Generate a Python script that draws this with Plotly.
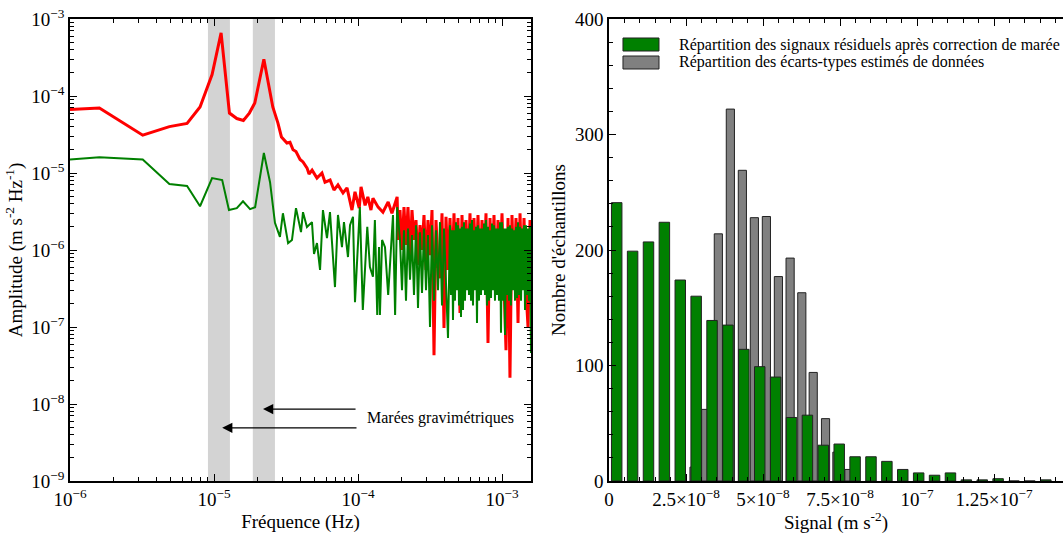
import numpy as np
import plotly.graph_objects as go

# ---------------- Left panel: amplitude spectra ----------------
red_freq_low = [1.0e-6, 1.6e-6, 3.2e-6, 4.9e-6, 6.5e-6, 8.0e-6, 9.7e-6, 1.12e-5, 1.28e-5, 1.44e-5,
                1.6e-5, 1.76e-5, 1.92e-5, 2.22e-5, 2.56e-5, 2.78e-5, 2.94e-5, 3.21e-5, 3.37e-5, 3.54e-5,
                3.71e-5, 3.96e-5, 4.15e-5, 4.43e-5, 4.57e-5, 4.80e-5, 5.19e-5, 5.62e-5, 5.90e-5, 6.40e-5,
                6.81e-5, 7.26e-5, 7.87e-5, 8.39e-5, 9.08e-5, 9.53e-5, 1.02e-4, 1.05e-4, 1.12e-4, 1.17e-4,
                1.23e-4, 1.27e-4, 1.38e-4, 1.49e-4, 1.62e-4, 1.72e-4, 1.87e-4, 1.90e-4]
red_amp_low = [6.7e-5, 7.0e-5, 3.1e-5, 4.0e-5, 4.4e-5, 7.2e-5, 1.9e-4, 6.6e-4, 6.0e-5, 5.1e-5,
               4.8e-5, 6.0e-5, 8.1e-5, 3.0e-4, 7.2e-5, 4.45e-5, 2.94e-5, 2.45e-5, 2.5e-5, 2.0e-5,
               1.9e-5, 1.5e-5, 1.39e-5, 1.16e-5, 9.7e-6, 1.09e-5, 8.6e-6, 1.0e-5, 7.6e-6, 8.1e-6,
               6.0e-6, 7.0e-6, 5.5e-6, 6.4e-6, 3.3e-6, 5.7e-6, 3.5e-6, 6.6e-6, 3.8e-6, 4.9e-6,
               3.3e-6, 4.7e-6, 3.6e-6, 3.1e-6, 4.2e-6, 3.0e-6, 4.9e-6, 1.35e-6]

green_freq_low = [1.0e-6, 1.6e-6, 3.2e-6, 4.9e-6, 6.5e-6, 8.0e-6, 9.7e-6, 1.14e-5, 1.27e-5, 1.44e-5,
                  1.59e-5, 1.78e-5, 1.93e-5, 2.22e-5, 2.45e-5, 2.65e-5, 2.87e-5, 3.01e-5, 3.27e-5, 3.48e-5,
                  3.71e-5, 4.02e-5, 4.15e-5, 4.42e-5, 4.79e-5, 4.95e-5, 5.19e-5, 5.45e-5, 5.71e-5, 6.09e-5,
                  6.39e-5, 6.60e-5, 6.92e-5, 7.26e-5, 7.74e-5, 7.99e-5, 8.52e-5, 8.80e-5, 9.23e-5, 9.53e-5,
                  1.0e-4, 1.03e-4, 1.08e-4, 1.16e-4, 1.21e-4, 1.27e-4, 1.31e-4, 1.36e-4, 1.40e-4, 1.42e-4,
                  1.47e-4, 1.54e-4, 1.62e-4, 1.70e-4, 1.75e-4, 1.81e-4, 1.87e-4]
green_amp_low = [1.5e-5, 1.6e-5, 1.5e-5, 7.2e-6, 6.8e-6, 3.7e-6, 8.6e-6, 8.1e-6, 3.3e-6, 3.5e-6,
                 4.3e-6, 3.4e-6, 3.6e-6, 1.82e-5, 7.6e-6, 2.25e-6, 1.48e-6, 3.0e-6, 1.23e-6, 1.35e-6,
                 3.5e-6, 1.71e-6, 3.1e-6, 1.99e-6, 2.3e-6, 8.9e-7, 1.23e-6, 5.5e-7, 3.3e-6, 1.43e-6,
                 3.1e-6, 1.09e-6, 3.3e-7, 2.85e-6, 1.09e-6, 2.3e-6, 8.1e-7, 2.1e-6, 2.7e-6, 2.1e-7,
                 1.0e-6, 3.6e-6, 1.66e-7, 2.0e-6, 6.0e-7, 4.5e-7, 2.45e-6, 1.43e-7, 1.09e-6, 1.43e-7,
                 1.35e-6, 1.09e-6, 2.6e-7, 1.23e-6, 2.85e-6, 1.43e-7, 3.6e-6]

# dense high-frequency part of the red spectrum
red_freq_hf = [1.957e-4, 2.021e-4, 2.086e-4, 2.154e-4, 2.224e-4, 2.297e-4, 2.371e-4, 2.448e-4, 2.528e-4, 2.610e-4,
               2.695e-4, 2.783e-4, 2.873e-4, 2.967e-4, 3.063e-4, 3.162e-4, 3.265e-4, 3.372e-4, 3.481e-4, 3.594e-4,
               3.711e-4, 3.831e-4, 3.956e-4, 4.084e-4, 4.217e-4, 4.354e-4, 4.496e-4, 4.642e-4, 4.792e-4, 4.948e-4,
               5.109e-4, 5.275e-4, 5.446e-4, 5.623e-4, 5.806e-4, 5.995e-4, 6.189e-4, 6.390e-4, 6.598e-4, 6.813e-4,
               7.034e-4, 7.263e-4, 7.499e-4, 7.743e-4, 7.994e-4, 8.254e-4, 8.522e-4, 8.799e-4, 9.085e-4, 9.380e-4,
               9.685e-4, 1.000e-3, 1.033e-3, 1.066e-3, 1.101e-3, 1.136e-3, 1.173e-3, 1.212e-3, 1.251e-3, 1.292e-3,
               1.334e-3, 1.377e-3, 1.422e-3, 1.468e-3, 1.516e-3, 1.565e-3, 1.616e-3]
red_amp_hf = [3.3e-6, 1.0e-6, 3.6e-6, 1.16e-6, 3.6e-6, 7.4e-7, 3.3e-6, 1.35e-6, 2.45e-6, 6.4e-7,
              2.1e-6, 1.0e-6, 2.85e-6, 5.5e-7, 2.45e-6, 8.6e-7, 3.3e-6, 4.3e-8, 2.45e-6, 6.4e-7,
              4.3e-7, 3.0e-6, 9.7e-8, 2.7e-6, 5.5e-7, 2.6e-6, 4.7e-7, 3.0e-6, 4.1e-7, 2.6e-6,
              1.52e-7, 2.85e-6, 3.5e-7, 2.45e-6, 5.5e-7, 3.0e-6, 3.0e-7, 2.6e-6, 4.7e-7, 2.85e-6,
              3.5e-7, 2.45e-6, 5.5e-7, 3.0e-6, 6.2e-8, 2.6e-6, 4.1e-7, 2.85e-6, 3.0e-7, 2.45e-6,
              4.7e-7, 3.0e-6, 3.5e-7, 5.0e-8, 2.6e-6, 2.2e-8, 2.85e-6, 4.1e-7, 2.6e-6, 1.13e-7,
              3.0e-6, 3.5e-7, 2.6e-6, 3.0e-7, 1.0e-7, 2.45e-6, 7.4e-7]

# dense high-frequency part of the green spectrum
green_freq_hf = [1.957e-4, 2.021e-4, 2.086e-4, 2.154e-4, 2.224e-4, 2.297e-4, 2.371e-4, 2.448e-4, 2.528e-4, 2.610e-4,
                 2.695e-4, 2.783e-4, 2.873e-4, 2.967e-4, 3.063e-4, 3.162e-4, 3.265e-4, 3.372e-4, 3.481e-4, 3.594e-4,
                 3.711e-4, 3.831e-4, 3.956e-4, 4.084e-4, 4.217e-4,
                 4.354e-4, 4.424e-4, 4.496e-4, 4.568e-4, 4.642e-4, 4.717e-4, 4.792e-4, 4.869e-4, 4.948e-4, 5.028e-4,
                 5.109e-4, 5.191e-4, 5.275e-4, 5.360e-4, 5.446e-4, 5.534e-4, 5.623e-4, 5.714e-4, 5.806e-4, 5.900e-4,
                 5.995e-4, 6.092e-4, 6.189e-4, 6.289e-4, 6.390e-4, 6.493e-4, 6.598e-4, 6.704e-4, 6.813e-4, 6.923e-4,
                 7.034e-4, 7.147e-4, 7.263e-4, 7.380e-4, 7.499e-4, 7.620e-4, 7.743e-4, 7.868e-4, 7.994e-4, 8.123e-4,
                 8.254e-4, 8.387e-4, 8.522e-4, 8.659e-4, 8.799e-4, 8.941e-4, 9.085e-4, 9.231e-4, 9.380e-4, 9.531e-4,
                 9.685e-4, 9.841e-4, 1.000e-3, 1.016e-3, 1.033e-3, 1.050e-3, 1.066e-3, 1.083e-3, 1.101e-3, 1.119e-3,
                 1.136e-3, 1.154e-3, 1.173e-3, 1.192e-3, 1.212e-3, 1.232e-3, 1.251e-3, 1.271e-3, 1.292e-3, 1.313e-3,
                 1.334e-3, 1.356e-3, 1.377e-3, 1.399e-3, 1.422e-3, 1.445e-3, 1.468e-3, 1.492e-3, 1.516e-3, 1.540e-3,
                 1.565e-3, 1.590e-3]
green_amp_hf = [1.35e-6, 3.0e-7, 1.8e-6, 2.2e-7, 1.9e-6, 4.1e-7, 1.57e-6, 2.6e-7, 2.1e-6, 1.77e-7,
                1.7e-6, 2.77e-7, 1.9e-6, 3.0e-7, 1.57e-6, 1.0e-7, 2.1e-6, 2.2e-7, 1.8e-6, 3.0e-7,
                2.3e-6, 1.9e-7, 1.9e-6, 2.6e-7, 7.2e-8,
                2.1e-6, 2.6e-7, 1.8e-6, 1.23e-7, 1.8e-6, 2.2e-7, 2.3e-6, 3.0e-7, 2.1e-6, 1.9e-7,
                1.9e-6, 1.35e-7, 2.0e-6, 1.66e-7, 2.3e-6, 2.2e-7, 1.9e-6, 3.0e-7, 1.9e-6, 2.6e-7,
                2.2e-6, 2.2e-7, 2.45e-6, 1.9e-7, 1.8e-6, 3.0e-7, 2.0e-6, 1.13e-7, 2.1e-6, 2.2e-7,
                1.9e-6, 2.6e-7, 1.9e-6, 3.0e-7, 2.2e-6, 2.6e-7, 2.45e-6, 1.9e-7, 2.0e-6, 2.2e-7,
                1.8e-6, 2.38e-7, 2.2e-6, 3.0e-7, 2.1e-6, 2.2e-7, 1.9e-6, 2.6e-7, 1.9e-6, 2.2e-7,
                2.3e-6, 8.4e-8, 2.3e-6, 2.2e-7, 1.9e-6, 7.9e-8, 1.9e-6, 2.6e-7, 2.0e-6, 2.2e-7,
                2.1e-6, 1.9e-7, 1.9e-6, 3.0e-7, 1.8e-6, 2.2e-7, 2.0e-6, 2.38e-7, 2.3e-6, 2.6e-7,
                2.0e-6, 2.2e-7, 1.9e-6, 3.0e-7, 2.1e-6, 1.66e-7, 2.1e-6, 2.6e-7, 1.9e-6, 2.2e-7,
                2.0e-6, 4.6e-8]

# tidal bands (Hz) and annotation arrows
band_start = [9.08e-6, 1.86e-5]
band_end = [1.29e-5, 2.65e-5]
arrow_tip_freq = [2.19e-5, 1.14e-5]
arrow_tail_freq = [9.85e-5, 1.0e-4]
arrow_amp = [8.6e-9, 4.9e-9]
label_freq, label_amp = 1.12e-4, 6.5e-9
label_text = "Marées gravimétriques"

# ---------------- Right panel: histograms ----------------
green_bin_centers = [2.50e-9, 7.66e-9, 12.82e-9, 17.98e-9, 23.14e-9, 28.30e-9, 33.46e-9, 38.62e-9, 43.78e-9,
                     48.94e-9, 54.10e-9, 59.26e-9, 64.42e-9, 69.58e-9, 74.74e-9, 79.90e-9, 85.06e-9, 90.22e-9,
                     95.38e-9, 100.54e-9, 105.70e-9, 110.86e-9, 116.02e-9, 121.18e-9, 126.34e-9, 131.50e-9,
                     136.66e-9, 141.82e-9]
green_counts = [241, 199, 207, 224, 174, 160, 139, 135, 114, 99, 90, 55, 57, 31, 32, 21, 21, 17, 10, 7,
                5, 7, 1, 1, 2, 0, 0, 1]
gray_bin_centers = [27.6e-9, 31.4e-9, 35.5e-9, 39.4e-9, 43.3e-9, 47.2e-9, 51.1e-9, 55.0e-9, 58.8e-9,
                    62.6e-9, 66.3e-9, 70.3e-9, 74.0e-9, 77.9e-9]
gray_counts = [12, 62, 214, 322, 269, 228, 229, 177, 193, 163, 94, 54, 25, 10]
legend_labels = ["Répartition des signaux résiduels après correction de marée",
                 "Répartition des écarts-types estimés de données"]

FONT = "Liberation Serif"
RED = "#ff0000"
GREEN = "#008000"
GRAY = "#808080"

fig = go.Figure()
fig.add_trace(go.Scatter(x=red_freq_low + red_freq_hf, y=red_amp_low + red_amp_hf, mode="lines",
                         line=dict(color=RED, width=3), showlegend=False, xaxis="x", yaxis="y"))
fig.add_trace(go.Scatter(x=green_freq_low + green_freq_hf, y=green_amp_low + green_amp_hf, mode="lines",
                         line=dict(color=GREEN, width=2), showlegend=False, xaxis="x", yaxis="y"))
fig.add_trace(go.Bar(x=gray_bin_centers, y=gray_counts, width=[2.65e-9] * len(gray_counts),
                     marker=dict(color=GRAY, line=dict(color="#222222", width=1)),
                     name=legend_labels[1], showlegend=False, xaxis="x2", yaxis="y2"))
fig.add_trace(go.Bar(x=green_bin_centers, y=green_counts, width=[3.4e-9] * len(green_counts),
                     marker=dict(color=GREEN, line=dict(color="#222222", width=1)),
                     name=legend_labels[0], showlegend=False, xaxis="x2", yaxis="y2"))

# shaded tidal bands
for b0, b1 in zip(band_start, band_end):
    fig.add_shape(type="rect", xref="x", yref="y domain", x0=b0, x1=b1, y0=0, y1=1,
                  fillcolor="#d3d3d3", line=dict(width=0), layer="below")

annotations = []
for tf, tl, a in zip(arrow_tip_freq, arrow_tail_freq, arrow_amp):
    annotations.append(dict(x=np.log10(tf), y=np.log10(a), ax=np.log10(tl), ay=np.log10(a),
                            xref="x", yref="y", axref="x", ayref="y", text="", showarrow=True,
                            arrowhead=2, arrowsize=1.7, arrowwidth=1.2, arrowcolor="black"))
annotations.append(dict(x=np.log10(label_freq), y=np.log10(label_amp), xref="x", yref="y",
                        text=label_text, showarrow=False, xanchor="left", yanchor="middle",
                        font=dict(family=FONT, size=16, color="black")))

# custom legend for the histogram panel
leg_y = [(0.9307, 0.9589), (0.8918, 0.9199)]
for (y0, y1), col, lab in zip(leg_y, [GREEN, GRAY], legend_labels):
    fig.add_shape(type="rect", xref="x2 domain", yref="y2 domain", x0=0.0308, x1=0.1101, y0=y0, y1=y1,
                  fillcolor=col, line=dict(color="#222222", width=1))
    annotations.append(dict(x=0.1498, y=(y0 + y1) / 2, xref="x2 domain", yref="y2 domain", text=lab,
                            showarrow=False, xanchor="left", yanchor="middle",
                            font=dict(family=FONT, size=16, color="black")))


def sup(e):
    return "10<sup>\u2212%d</sup>" % e


log_minor_x = [m * 10.0 ** e for e in range(-6, -2) for m in range(2, 10)]
log_minor_y = [m * 10.0 ** e for e in range(-9, -3) for m in range(2, 10)]

axis_common = dict(showline=True, linecolor="black", linewidth=1.5, ticks="inside", ticklen=7,
                   tickwidth=1, tickcolor="black", showgrid=False, zeroline=False,
                   tickfont=dict(family=FONT, size=19, color="black"))

fig.update_layout(
    width=1063, height=534,
    margin=dict(l=70, r=0, t=19, b=53),
    paper_bgcolor="white", plot_bgcolor="white",
    font=dict(family=FONT, size=19, color="black"),
    barmode="overlay",
    showlegend=False,
    xaxis=dict(type="log", range=[-6, -2.7986], domain=[0, 0.46425], anchor="y",
               tickvals=[1e-6, 1e-5, 1e-4, 1e-3], ticktext=[sup(6), sup(5), sup(4), sup(3)],
               mirror="ticks",
               minor=dict(tickvals=log_minor_x, ticks="inside", ticklen=4, tickcolor="black"),
               title=dict(text="Fréquence (Hz)", font=dict(family=FONT, size=19), standoff=6),
               **axis_common),
    yaxis=dict(type="log", range=[-9, -3], domain=[0, 1], anchor="x",
               tickvals=[1e-9, 1e-8, 1e-7, 1e-6, 1e-5, 1e-4, 1e-3],
               ticktext=[sup(9), sup(8), sup(7), sup(6), sup(5), sup(4), sup(3)],
               mirror="ticks",
               minor=dict(tickvals=log_minor_y, ticks="inside", ticklen=4, tickcolor="black"),
               title=dict(text="Amplitude (m s<sup>-2</sup> Hz<sup>-1</sup>)", font=dict(family=FONT, size=19),
                          standoff=4),
               **axis_common),
    xaxis2=dict(range=[0, 1.474e-7], domain=[0.5428, 1.0], anchor="y2",
                tickvals=[0, 2.5e-8, 5e-8, 7.5e-8, 1e-7, 1.25e-7],
                ticktext=["0", "2.5\u00d7" + sup(8), "5\u00d7" + sup(8), "7.5\u00d7" + sup(8), sup(7),
                          "1.25\u00d7" + sup(7)],
                mirror="ticks",
                minor=dict(dtick=5e-9, tick0=0, ticks="inside", ticklen=4, tickcolor="black"),
                title=dict(text="Signal (m s<sup>-2</sup>)", font=dict(family=FONT, size=19), standoff=6),
                **axis_common),
    yaxis2=dict(range=[0, 400], domain=[0, 1], anchor="x2",
                tickvals=[0, 100, 200, 300, 400], mirror=False,
                minor=dict(dtick=20, tick0=0, ticks="inside", ticklen=4, tickcolor="black"),
                title=dict(text="Nombre d'échantillons", font=dict(family=FONT, size=19), standoff=4),
                **axis_common),
    annotations=annotations,
)

# remove the browser's default page margin so the figure fills the window exactly
fig.write_html("out.html", config={"displayModeBar": False},
               post_script="document.body.style.margin='0px';")
